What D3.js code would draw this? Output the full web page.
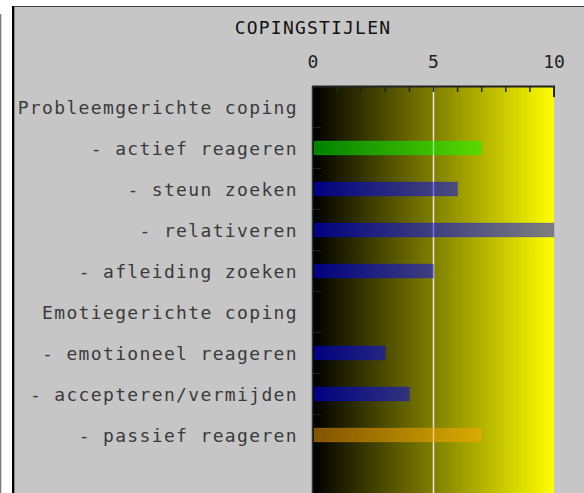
<!DOCTYPE html>
<html><head><meta charset="utf-8">
<script src="https://cdn.jsdelivr.net/npm/d3@7/dist/d3.min.js"></script>
<style>html,body{margin:0;padding:0;background:#fff;overflow:hidden}</style>
</head><body>
<script>
const title = "COPINGSTIJLEN";
const categories = ["Probleemgerichte coping","- actief reageren","- steun zoeken","- relativeren","- afleiding zoeken","Emotiegerichte coping","- emotioneel reageren","- accepteren/vermijden","- passief reageren"];
const values = [null, 7, 6, 10, 5, null, 3, 4, 7];
const barColors = [null, "#00ff00", "#0000ff", "#0000ff", "#0000ff", null, "#0000ff", "#0000ff", "#ffa500"];
const tickLabels = [0, 5, 10];
const xDomain = [0, 10];

const W = 584, H = 493;
const svg = d3.select("body").append("svg").attr("width", W).attr("height", H);
const font = "'DejaVu Sans Mono', monospace";

// outer decoration
svg.append("line").attr("x1",0.5).attr("x2",0.5).attr("y1",14).attr("y2",H).attr("stroke","#7a7a7a").attr("stroke-width",1.5);
// panel
svg.append("rect").attr("x",13).attr("y",6).attr("width",W-13).attr("height",H-6).attr("fill","#c6c6c6");
svg.append("line").attr("x1",12).attr("x2",W).attr("y1",6.5).attr("y2",6.5).attr("stroke","#444").attr("stroke-width",1);
svg.append("line").attr("x1",13).attr("x2",13).attr("y1",6).attr("y2",H).attr("stroke","#000").attr("stroke-width",2);
svg.append("line").attr("x1",14.5).attr("x2",14.5).attr("y1",7).attr("y2",H).attr("stroke","#888").attr("stroke-width",1);

const x = d3.scaleLinear().domain(xDomain).range([313, 554]);
const y = d3.scaleBand().domain(categories).range([86, 86 + 41 * categories.length]);
const barH = 14;

// gradient background
const defs = svg.append("defs");
const g = defs.append("linearGradient").attr("id","bg").attr("x1","0").attr("x2","1").attr("y1","0").attr("y2","0");
g.append("stop").attr("offset","0").attr("stop-color","#000000");
g.append("stop").attr("offset","1").attr("stop-color","#ffff00");
svg.append("rect").attr("x",x(0)).attr("y",86).attr("width",x(10)-x(0)).attr("height",H-86).attr("fill","url(#bg)");

// white reference line at 5
svg.append("line").attr("x1",x(5)).attr("x2",x(5)).attr("y1",86).attr("y2",H).attr("stroke","#e6e6e6").attr("stroke-width",1.5);

// bars
const rows = categories.map((c,i)=>({c, v: values[i], col: barColors[i]})).filter(d=>d.v!=null);
svg.selectAll("rect.bar").data(rows).enter().append("rect").attr("class","bar")
  .attr("x", x(0)+1).attr("y", d => y(d.c) + (y.bandwidth()-barH)/2 + 0.5)
  .attr("width", d => x(d.v) - x(0) - 1).attr("height", barH)
  .attr("fill", d => d.col).attr("fill-opacity", 0.5)
  .attr("stroke", d => d.col).attr("stroke-opacity", 0.15).attr("stroke-width", 1);

// top axis
const axTop = svg.append("g").attr("transform","translate(0,86)");
axTop.append("line").attr("x1",x(0)-1).attr("x2",x(10)+1).attr("y1",0.5).attr("y2",0.5).attr("stroke","#222").attr("stroke-width",2);
axTop.selectAll("line.tk").data(d3.range(1,10)).enter().append("line").attr("class","tk")
  .attr("x1",d=>x(d)).attr("x2",d=>x(d)).attr("y1",0).attr("y2",6).attr("stroke","#222").attr("stroke-width",1.5);
axTop.append("line").attr("x1",x(10)).attr("x2",x(10)).attr("y1",0).attr("y2",11).attr("stroke","#222").attr("stroke-width",2);
svg.selectAll("text.tl").data(tickLabels).enter().append("text").attr("class","tl")
  .attr("x", d=>x(d)).attr("y", 68).attr("text-anchor","middle")
  .attr("font-family",font).attr("font-size",18).attr("fill","#222").text(d=>d);

// left axis
svg.append("line").attr("x1",x(0)-0.5).attr("x2",x(0)-0.5).attr("y1",86).attr("y2",H).attr("stroke","#333").attr("stroke-width",1.5);
svg.selectAll("line.ltk").data(categories.slice(1)).enter().append("line").attr("class","ltk")
  .attr("x1",x(0)).attr("x2",x(0)+8).attr("y1",d=>y(d)+0.5).attr("y2",d=>y(d)+0.5)
  .attr("stroke","#222").attr("stroke-width",1);

// category labels
svg.selectAll("text.cl").data(categories).enter().append("text").attr("class","cl")
  .attr("x", 298).attr("y", d => y(d) + y.bandwidth()/2 + 7).attr("text-anchor","end")
  .attr("font-family",font).attr("font-size",18).attr("letter-spacing","1.35px").attr("fill","#3a3a3a").text(d=>d);

// title
svg.append("text").attr("x",313).attr("y",34).attr("text-anchor","middle")
  .attr("font-family",font).attr("font-size",18).attr("letter-spacing","1.2px").attr("fill","#111").text(title);
</script>
</body></html>
